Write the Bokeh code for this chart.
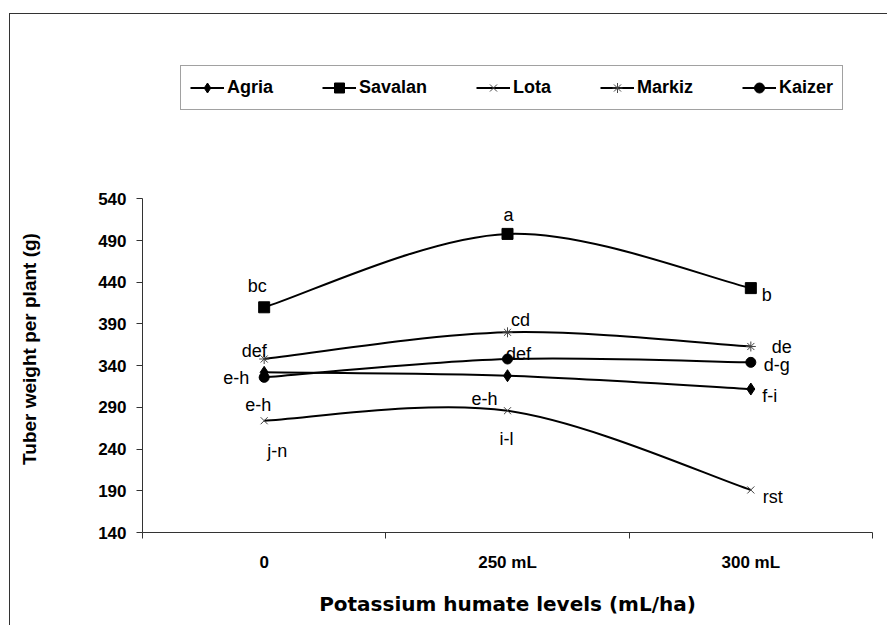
from bokeh.plotting import figure
from bokeh.layouts import column
from bokeh.models import (Range1d, FixedTicker, Legend, LegendItem, ColumnDataSource,
                          InlineStyleSheet)
from bokeh.core.properties import value
from bokeh.embed import file_html
from bokeh.resources import INLINE

# ---------------- data ----------------
levels = ["0", "250 mL", "300 mL"]
series_names = ["Agria", "Savalan", "Lota", "Markiz", "Kaizer"]
agria = [332, 328, 312]
savalan = [410, 498, 433]
lota = [274, 286, 191]
markiz = [348, 380, 363]
kaizer = [326, 348, 344]
agria_letters = ["e-h", "e-h", "f-i"]
savalan_letters = ["bc", "a", "b"]
lota_letters = ["j-n", "i-l", "rst"]
markiz_letters = ["def", "cd", "de"]
kaizer_letters = ["e-h", "def", "d-g"]
y_ticks = [140, 190, 240, 290, 340, 390, 440, 490, 540]

# ---------------- styles ----------------
FONT = "Liberation Sans"
markers = {"Agria": "diamond", "Savalan": "square", "Lota": "x", "Markiz": "asterisk", "Kaizer": "circle"}
marker_sizes = {"Agria": 12, "Savalan": 11, "Lota": 10, "Markiz": 10, "Kaizer": 10}
marker_colors = {"Agria": "black", "Savalan": "black", "Lota": "#444444", "Markiz": "#444444", "Kaizer": "black"}
# label offsets in pixels (dx, dy downwards), per point
label_offsets = {
    "Agria": [(-6, 33), (-23, 23), (19, 7)],
    "Savalan": [(-7, -21), (1, -19), (16, 7)],
    "Lota": [(13, 30), (-1, 28), (22, 7)],
    "Markiz": [(-10, -8), (13, -12), (31, 1)],
    "Kaizer": [(-28, 1), (11, -5), (26, 3)],
}

values = {"Agria": agria, "Savalan": savalan, "Lota": lota, "Markiz": markiz, "Kaizer": kaizer}
letters = {"Agria": agria_letters, "Savalan": savalan_letters, "Lota": lota_letters,
           "Markiz": markiz_letters, "Kaizer": kaizer_letters}

xpos = [i + 0.5 for i in range(len(levels))]


def border_css(top):
    extra = "border-top: 1px solid #333333;" if top else ""
    return InlineStyleSheet(css=f"""
:host {{ position: relative; }}
:host::after {{ content: ""; position: absolute; left: 9px; top: {13 if top else 0}px; right: 0px;
  bottom: 0px; border-left: 1px solid #333333; {extra} pointer-events: none; }}
""")


# ---------------- legend strip (top of the chart area) ----------------
LEG_H = 150
pl = figure(width=887, height=LEG_H, x_range=Range1d(-2, -1), y_range=Range1d(-2, -1),
            output_backend="svg", toolbar_location=None, x_axis_type=None, y_axis_type=None,
            min_border=0)
pl.xgrid.visible = False
pl.ygrid.visible = False
pl.outline_line_color = None
pl.border_fill_color = "white"
pl.background_fill_color = "white"
pl.stylesheets = [border_css(True)]

items = []
for name in series_names:
    mk = markers[name]
    filled = mk in ("diamond", "square", "circle")
    # same series drawn off-range: they only supply the legend swatches
    rl = pl.line(xpos, values[name], line_color="black", line_width=2)
    rs = pl.scatter(xpos, values[name], marker=mk, size=marker_sizes[name],
                    fill_color=marker_colors[name] if filled else None,
                    line_color=marker_colors[name], line_width=1)
    items.append(LegendItem(label=name, renderers=[rl, rs]))

legend = Legend(items=items, orientation="horizontal", location=(38, 40), margin=0,
                label_text_font=FONT, label_text_font_style="bold", label_text_font_size="18px",
                label_text_color="black", glyph_width=34, glyph_height=25, label_standoff=3,
                spacing=49, padding=9, border_line_color="#444444", border_line_width=1,
                background_fill_color="white", background_fill_alpha=1.0)
pl.add_layout(legend, "center")

# ---------------- main chart ----------------
# frame has a little headroom above 540; the y axis itself is bounded to 140..540
Y_LOW, Y_AXIS_TOP, Y_FRAME_TOP = 140, 540, 580

p = figure(width=887, height=625 - LEG_H, x_range=Range1d(0, len(levels)),
           y_range=Range1d(Y_LOW, Y_FRAME_TOP),
           output_backend="svg", toolbar_location=None,
           min_border_left=142, min_border_right=15, min_border_top=15, min_border_bottom=93)
p.xgrid.visible = False
p.ygrid.visible = False
p.outline_line_color = None
p.background_fill_color = "white"
p.border_fill_color = "white"
p.stylesheets = [border_css(False)]


def smooth_segments(xs, ys):
    n = len(xs)
    out = dict(x0=[], y0=[], x1=[], y1=[], cx0=[], cy0=[], cx1=[], cy1=[])
    for i in range(n - 1):
        im = max(i - 1, 0)
        i2 = min(i + 2, n - 1)
        out["x0"].append(xs[i]); out["y0"].append(ys[i])
        out["x1"].append(xs[i + 1]); out["y1"].append(ys[i + 1])
        out["cx0"].append(xs[i] + (xs[i + 1] - xs[im]) / 6.0)
        out["cy0"].append(ys[i] + (ys[i + 1] - ys[im]) / 6.0)
        out["cx1"].append(xs[i + 1] - (xs[i2] - xs[i]) / 6.0)
        out["cy1"].append(ys[i + 1] - (ys[i2] - ys[i]) / 6.0)
    return out


for name in series_names:
    ys = values[name]
    seg = ColumnDataSource(smooth_segments(xpos, ys))
    p.bezier(x0="x0", y0="y0", x1="x1", y1="y1", cx0="cx0", cy0="cy0",
             cx1="cx1", cy1="cy1", source=seg, line_color="black", line_width=2)
    mk = markers[name]
    filled = mk in ("diamond", "square", "circle")
    p.scatter(xpos, ys, marker=mk, size=marker_sizes[name],
              fill_color=marker_colors[name] if filled else None,
              line_color=marker_colors[name], line_width=1)

# significance letters
lx, ly, lt, dxs, dys = [], [], [], [], []
for name in series_names:
    for i, (xv, yv) in enumerate(zip(xpos, values[name])):
        lx.append(xv); ly.append(yv); lt.append(letters[name][i])
        dxs.append(label_offsets[name][i][0]); dys.append(label_offsets[name][i][1])
lab_src = ColumnDataSource(dict(x=lx, y=ly, text=lt, dx=dxs, dy=dys))
p.text(x="x", y="y", text="text", x_offset="dx", y_offset="dy", source=lab_src,
       text_align="center", text_baseline="alphabetic", text_font=value(FONT),
       text_font_size="18px", text_color="black")

# axes
yax = p.yaxis[0]
yax.bounds = (Y_LOW, Y_AXIS_TOP)
yax.ticker = FixedTicker(ticks=y_ticks)
yax.axis_label = "Tuber weight per plant (g)"
yax.axis_label_text_font = FONT
yax.axis_label_text_font_style = "bold"
yax.axis_label_text_font_size = "19px"
yax.axis_label_text_color = "black"
yax.axis_label_standoff = 55
yax.major_label_text_font = FONT
yax.major_label_text_font_style = "bold"
yax.major_label_text_font_size = "17px"
yax.major_label_text_color = "black"
yax.major_label_standoff = 10
yax.major_tick_out = 6
yax.major_tick_in = 0
yax.minor_tick_out = 0
yax.minor_tick_in = 0
yax.axis_line_color = "#333333"
yax.major_tick_line_color = "#333333"

xax = p.xaxis[0]
xax.ticker = FixedTicker(ticks=xpos, minor_ticks=list(range(len(levels) + 1)))
xax.major_label_overrides = {xv: lab for xv, lab in zip(xpos, levels)}
xax.axis_label = "Potassium humate levels (mL/ha)"
xax.axis_label_text_font = "DejaVu Sans"
xax.axis_label_text_font_style = "bold"
xax.axis_label_text_font_size = "20px"
xax.axis_label_text_color = "black"
xax.axis_label_standoff = 17
xax.major_label_text_font = FONT
xax.major_label_text_font_style = "bold"
xax.major_label_text_font_size = "17px"
xax.major_label_text_color = "black"
xax.major_label_standoff = 14
xax.major_tick_out = 0
xax.major_tick_in = 0
xax.minor_tick_out = 6
xax.minor_tick_in = 0
xax.axis_line_color = "#333333"
xax.minor_tick_line_color = "#333333"

page = column(pl, p, spacing=0)
open("out.html", "w").write(file_html(page, INLINE))
